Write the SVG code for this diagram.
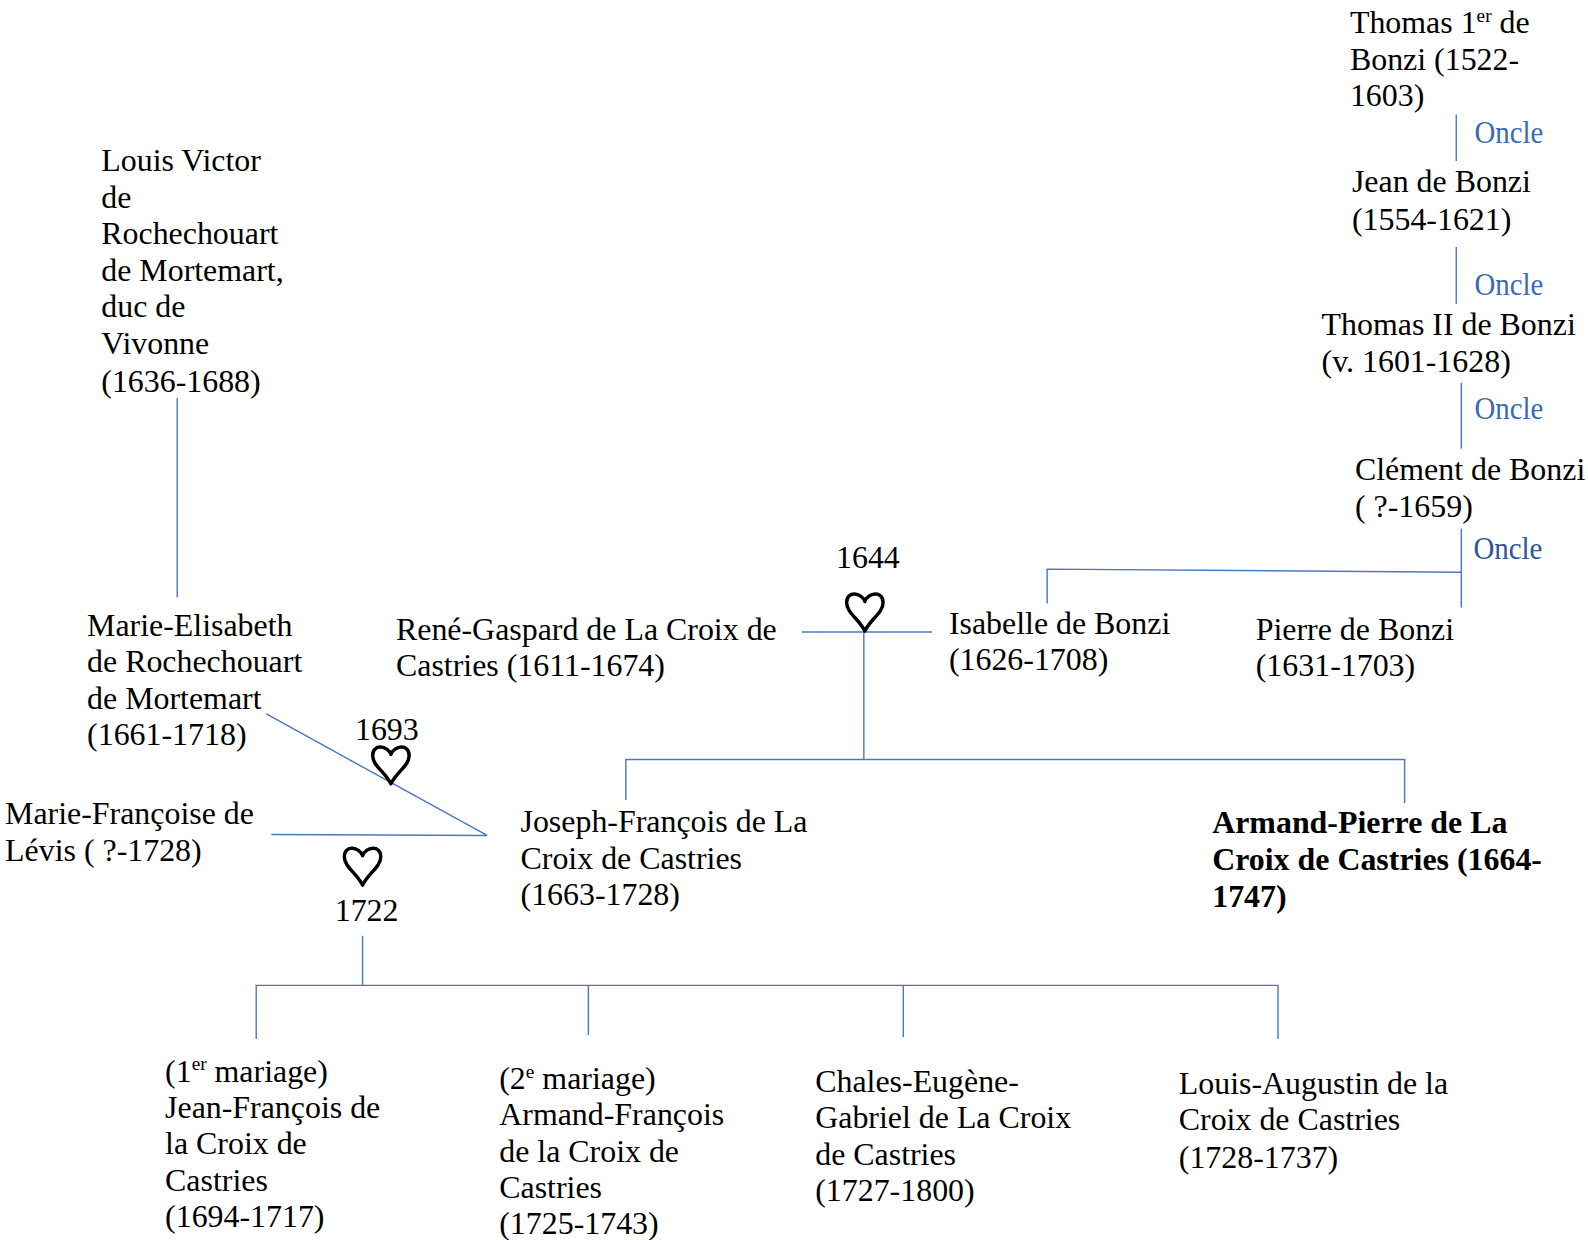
<svg xmlns="http://www.w3.org/2000/svg" xmlns:xlink="http://www.w3.org/1999/xlink" width="1588" height="1240" viewBox="0 0 1588 1240">
<style>
text{font-family:"Liberation Serif","Times New Roman",serif;font-size:31.5px;fill:#000}
.b{font-weight:bold}
.oncle{fill:#3a6bb0;font-size:31px}
.oncle2{fill:#2f5597;font-size:31px}
.ln{stroke:#4a78c0;stroke-width:1.4;fill:none}
.heart{fill:none;stroke:#000;stroke-width:3.4;stroke-linejoin:round}
</style>
<defs>
<path id="heart" class="heart" d="M0,8 C-3,-1 -18,-3 -18,9 C-18,19 -6,25 0,37 C6,25 18,19 18,9 C18,-3 3,-1 0,8 Z"/>
</defs>
<rect width="1588" height="1240" fill="#fff"/>
<g transform="scale(1.0127)">
<g id="connectors">
<line class="ln" x1="1438" y1="113" x2="1438" y2="159"/>
<line class="ln" x1="1438" y1="244" x2="1438" y2="300"/>
<line class="ln" x1="1443" y1="378" x2="1443" y2="443"/>
<line class="ln" x1="1443" y1="522" x2="1443" y2="600"/>
<polyline class="ln" points="1034,596 1034,562 1443,565"/>
<line class="ln" x1="792" y1="624" x2="920" y2="624"/>
<line class="ln" x1="853" y1="624" x2="853" y2="750"/>
<polyline class="ln" points="618,790 618,750 1387,750 1387,793"/>
<line class="ln" x1="175" y1="393" x2="175" y2="590"/>
<polyline class="ln" points="263,705 481,825 268,824"/>
<line class="ln" x1="358" y1="924" x2="358" y2="973"/>
<polyline class="ln" points="253,1026 253,973 1262,973 1262,1026"/>
<line class="ln" x1="581" y1="973" x2="581" y2="1022"/>
<line class="ln" x1="892" y1="973" x2="892" y2="1024"/>
</g>
<g id="relations">
<text class="oncle" x="1456" y="141" textLength="68" lengthAdjust="spacingAndGlyphs">Oncle</text>
<text class="oncle" x="1456" y="291" textLength="68" lengthAdjust="spacingAndGlyphs">Oncle</text>
<text class="oncle" x="1456" y="414" textLength="68" lengthAdjust="spacingAndGlyphs">Oncle</text>
<text class="oncle2" x="1455" y="552" textLength="68" lengthAdjust="spacingAndGlyphs">Oncle</text>
</g>
<g id="marriage-1644">
<text x="857" y="561" text-anchor="middle">1644</text>
<use xlink:href="#heart" x="854" y="586"/>
</g>
<g id="marriage-1693">
<text x="382" y="731" text-anchor="middle">1693</text>
<use xlink:href="#heart" x="386" y="737"/>
</g>
<g id="marriage-1722">
<use xlink:href="#heart" x="358" y="837"/>
<text x="362" y="909" text-anchor="middle">1722</text>
</g>
<g id="thomas1">
<text x="1333" y="33">Thomas 1<tspan font-size="19" dy="-11">er</tspan><tspan dy="11"> de</tspan></text>
<text x="1333" y="69">Bonzi (1522-</text>
<text x="1333" y="105">1603)</text>
</g>
<g id="jean">
<text x="1335" y="190">Jean de Bonzi</text>
<text x="1335" y="227">(1554-1621)</text>
</g>
<g id="thomas2">
<text x="1305" y="331">Thomas II de Bonzi</text>
<text x="1305" y="367">(v. 1601-1628)</text>
</g>
<g id="clement">
<text x="1338" y="474">Clément de Bonzi</text>
<text x="1338" y="511">( ?-1659)</text>
</g>
<g id="pierre">
<text x="1240" y="632">Pierre de Bonzi</text>
<text x="1240" y="668">(1631-1703)</text>
</g>
<g id="isabelle">
<text x="937" y="626">Isabelle de Bonzi</text>
<text x="937" y="662">(1626-1708)</text>
</g>
<g id="rene-gaspard">
<text x="391" y="632">René-Gaspard de La Croix de</text>
<text x="391" y="668">Castries (1611-1674)</text>
</g>
<g id="joseph-francois">
<text x="514" y="822">Joseph-François de La</text>
<text x="514" y="858">Croix de Castries</text>
<text x="514" y="894">(1663-1728)</text>
</g>
<g id="armand-pierre">
<text class="b" x="1197" y="823">Armand-Pierre de La</text>
<text class="b" x="1197" y="859">Croix de Castries (1664-</text>
<text class="b" x="1197" y="896">1747)</text>
</g>
<g id="louis-victor">
<text x="100" y="169">Louis Victor</text>
<text x="100" y="205">de</text>
<text x="100" y="241">Rochechouart</text>
<text x="100" y="277">de Mortemart,</text>
<text x="100" y="313">duc de</text>
<text x="100" y="350">Vivonne</text>
<text x="100" y="387">(1636-1688)</text>
</g>
<g id="marie-elisabeth">
<text x="86" y="628">Marie-Elisabeth</text>
<text x="86" y="664">de Rochechouart</text>
<text x="86" y="700">de Mortemart</text>
<text x="86" y="736">(1661-1718)</text>
</g>
<g id="marie-francoise">
<text x="5" y="814">Marie-Françoise de</text>
<text x="5" y="850">Lévis ( ?-1728)</text>
</g>
<g id="jean-francois">
<text x="163" y="1068">(1<tspan font-size="19" dy="-11">er</tspan><tspan dy="11"> mariage)</tspan></text>
<text x="163" y="1104">Jean-François de</text>
<text x="163" y="1140">la Croix de</text>
<text x="163" y="1176">Castries</text>
<text x="163" y="1212">(1694-1717)</text>
</g>
<g id="armand-francois">
<text x="493" y="1075">(2<tspan font-size="19" dy="-11">e</tspan><tspan dy="11"> mariage)</tspan></text>
<text x="493" y="1111">Armand-François</text>
<text x="493" y="1147">de la Croix de</text>
<text x="493" y="1183">Castries</text>
<text x="493" y="1219">(1725-1743)</text>
</g>
<g id="charles-eugene">
<text x="805" y="1078">Chales-Eugène-</text>
<text x="805" y="1114">Gabriel de La Croix</text>
<text x="805" y="1150">de Castries</text>
<text x="805" y="1186">(1727-1800)</text>
</g>
<g id="louis-augustin">
<text x="1164" y="1080">Louis-Augustin de la</text>
<text x="1164" y="1116">Croix de Castries</text>
<text x="1164" y="1153">(1728-1737)</text>
</g>
</g>
</svg>
